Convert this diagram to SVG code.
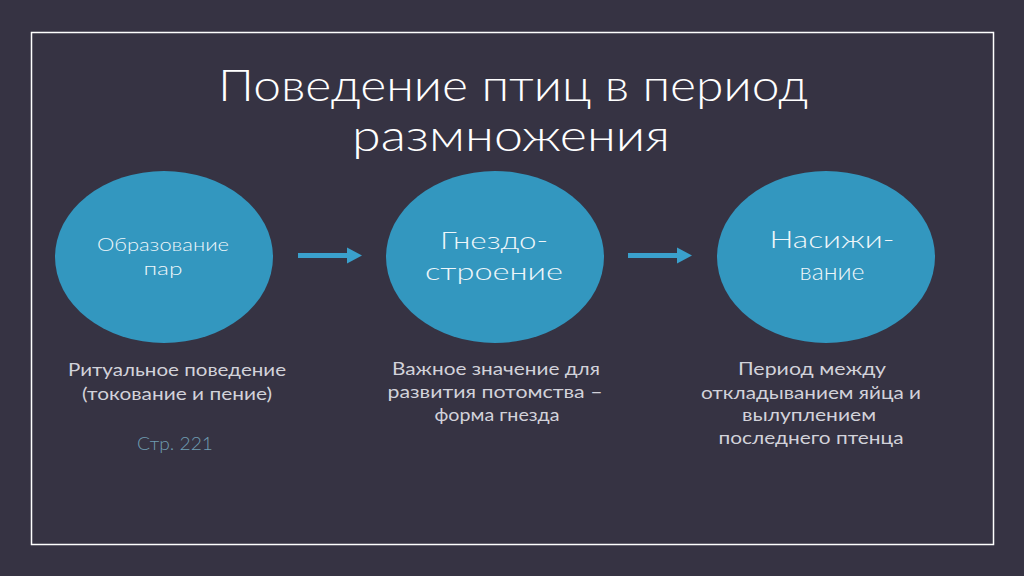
<svg xmlns="http://www.w3.org/2000/svg" width="1024" height="576" viewBox="0 0 1024 576">
<defs>
<style>
text{font-family:"Lato","Open Sans","Liberation Sans",sans-serif;text-anchor:middle}
.title{font-size:44px;fill:#ffffff;font-weight:300}
.node{fill:#3397bf}
.small{font-size:17px;fill:#eef6fa;font-weight:300}
.big{font-size:23px;fill:#eef6fa;font-weight:300}
.desc{font-size:17px;fill:#d2d2da}
.ref{font-size:17px;fill:#6f9db2;font-weight:300}
.conn{stroke:#3aa0cc;stroke-width:5;fill:none}
.head{fill:#3aa0cc}
</style>
</defs>
<rect width="1024" height="576" fill="#363343"/>
<rect x="31.5" y="32.5" width="962" height="512" fill="none" stroke="#ffffff" stroke-width="1.5"/>
<g id="title">
<text class="title" x="513" y="101" textLength="590" lengthAdjust="spacingAndGlyphs">Поведение птиц в период</text>
<text class="title" x="511" y="151" textLength="318" lengthAdjust="spacingAndGlyphs">размножения</text>
</g>
<g id="node1">
<ellipse class="node" cx="164" cy="257" rx="109" ry="86"/>
<text class="small" x="163" y="251" textLength="132" lengthAdjust="spacingAndGlyphs">Образование</text>
<text class="small" x="163" y="275" textLength="39" lengthAdjust="spacingAndGlyphs">пар</text>
</g>
<g id="node2">
<ellipse class="node" cx="495" cy="257" rx="109" ry="86"/>
<text class="big" x="494" y="249" textLength="108" lengthAdjust="spacingAndGlyphs">Гнездо-</text>
<text class="big" x="494" y="280" textLength="138" lengthAdjust="spacingAndGlyphs">строение</text>
</g>
<g id="node3">
<ellipse class="node" cx="826" cy="257" rx="109" ry="86"/>
<text class="big" x="832" y="248" textLength="125" lengthAdjust="spacingAndGlyphs">Насижи-</text>
<text class="big" x="832" y="280" textLength="65" lengthAdjust="spacingAndGlyphs">вание</text>
</g>
<g id="connectors">
<line class="conn" x1="298" y1="255.5" x2="348" y2="255.5"/>
<polygon class="head" points="347,247.5 362,255.5 347,263.5"/>
<line class="conn" x1="628" y1="255.5" x2="678" y2="255.5"/>
<polygon class="head" points="677,247.5 692,255.5 677,263.5"/>
</g>
<g id="desc1">
<text class="desc" x="177" y="376" textLength="218" lengthAdjust="spacingAndGlyphs">Ритуальное поведение</text>
<text class="desc" x="177" y="400" textLength="190" lengthAdjust="spacingAndGlyphs">(токование и пение)</text>
<text class="ref" x="175" y="450" textLength="76" lengthAdjust="spacingAndGlyphs">Стр. 221</text>
</g>
<g id="desc2">
<text class="desc" x="496" y="375" textLength="208" lengthAdjust="spacingAndGlyphs">Важное значение для</text>
<text class="desc" x="495" y="398" textLength="215" lengthAdjust="spacingAndGlyphs">развития потомства –</text>
<text class="desc" x="497" y="421" textLength="125" lengthAdjust="spacingAndGlyphs">форма гнезда</text>
</g>
<g id="desc3">
<text class="desc" x="812" y="375" textLength="148" lengthAdjust="spacingAndGlyphs">Период между</text>
<text class="desc" x="811" y="399" textLength="220" lengthAdjust="spacingAndGlyphs">откладыванием яйца и</text>
<text class="desc" x="809" y="421" textLength="134" lengthAdjust="spacingAndGlyphs">вылуплением</text>
<text class="desc" x="811" y="444" textLength="185" lengthAdjust="spacingAndGlyphs">последнего птенца</text>
</g>
</svg>
